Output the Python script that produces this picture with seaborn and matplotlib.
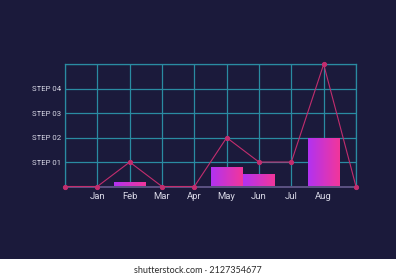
import numpy as np
import pandas as pd
import matplotlib
matplotlib.use("Agg")
import matplotlib.pyplot as plt
import seaborn as sns
from matplotlib.patches import Rectangle
from matplotlib.colors import LinearSegmentedColormap

# ---- data ----
categories = ["", "Jan", "Feb", "Mar", "Apr", "May", "Jun", "Jul", "Aug", " "]
bar_values = [0, 0, 0.18, 0, 0, 0.8, 0.52, 0, 2.0, 0]
line_values = [0, 0, 1, 0, 0, 2, 1, 1, 5, 0]
ytick_values = [0, 1, 2, 3, 4, 5]
ytick_labels = ["", "STEP 01", "STEP 02", "STEP 03", "STEP 04", ""]
credit = "shutterstock.com · 2127354677"

BG = "#1b1a3b"
GRID = "#2a8ba2"
LINE = "#c22d6e"
TXT = "#d8d8e6"

sns.set_theme(style="dark")
plt.rcParams["font.family"] = ["Roboto", "DejaVu Sans"]

fig = plt.figure(figsize=(3.96, 2.8), dpi=100, facecolor=BG)

# white credit strip
fig.patches.append(Rectangle((0, 0), 1, 21 / 280, transform=fig.transFigure,
                             facecolor="#ffffff", edgecolor="none", figure=fig))
fig.text(0.5, 9.5 / 280, credit, ha="center", va="center", fontsize=6.5,
         color="#2b2b2b", family=["Lato", "DejaVu Sans"])

ax = fig.add_axes([65 / 396, (280 - 186.5) / 280, 291 / 396, 122.2 / 280])
ax.set_facecolor(BG)

df = pd.DataFrame({"cat": categories, "val": bar_values})
sns.barplot(data=df, x="cat", y="val", order=categories, width=0.96,
            color="#c030d0", ax=ax, zorder=2, errorbar=None)

# gradient fill for bars
cmap = LinearSegmentedColormap.from_list("g", ["#b232f2", "#f2369a"])
grad = np.linspace(0, 1, 256).reshape(1, -1)
for p in list(ax.patches):
    h = p.get_height()
    if h <= 0:
        p.set_visible(False)
        continue
    x0, y0 = p.get_x(), p.get_y()
    w = p.get_width()
    p.set_facecolor("none")
    p.set_edgecolor("none")
    im = ax.imshow(grad, extent=[x0, x0 + w, y0, y0 + h], aspect="auto",
                   cmap=cmap, zorder=2, interpolation="bilinear")
    im.set_clip_path(p)

sns.lineplot(x=np.arange(len(line_values)), y=line_values, ax=ax,
             color=LINE, lw=0.8, marker="o", markersize=3.0,
             markeredgecolor=LINE, zorder=4, clip_on=False)

ax.set_xlim(0, len(categories) - 1)
ax.set_ylim(0, 5)
ax.set_xticks(np.arange(len(categories)))
ax.set_xticklabels(categories)
ax.set_yticks(ytick_values)
ax.set_yticklabels(ytick_labels)
ax.set_xlabel("")
ax.set_ylabel("")
ax.grid(True, color=GRID, lw=0.9, zorder=1, alpha=1)
ax.set_axisbelow(True)
ax.tick_params(axis="x", length=0, pad=4, labelsize=6.8, labelcolor=TXT)
ax.tick_params(axis="y", length=0, pad=3, labelsize=5.6, labelcolor=TXT)
for s in ["top", "left", "right"]:
    ax.spines[s].set_visible(True)
    ax.spines[s].set_color(GRID)
    ax.spines[s].set_linewidth(0.9)
ax.spines["bottom"].set_visible(True)
ax.spines["bottom"].set_color("#5b5282")
ax.spines["bottom"].set_linewidth(1.4)

fig.savefig("out.png", dpi=100, facecolor=BG)
